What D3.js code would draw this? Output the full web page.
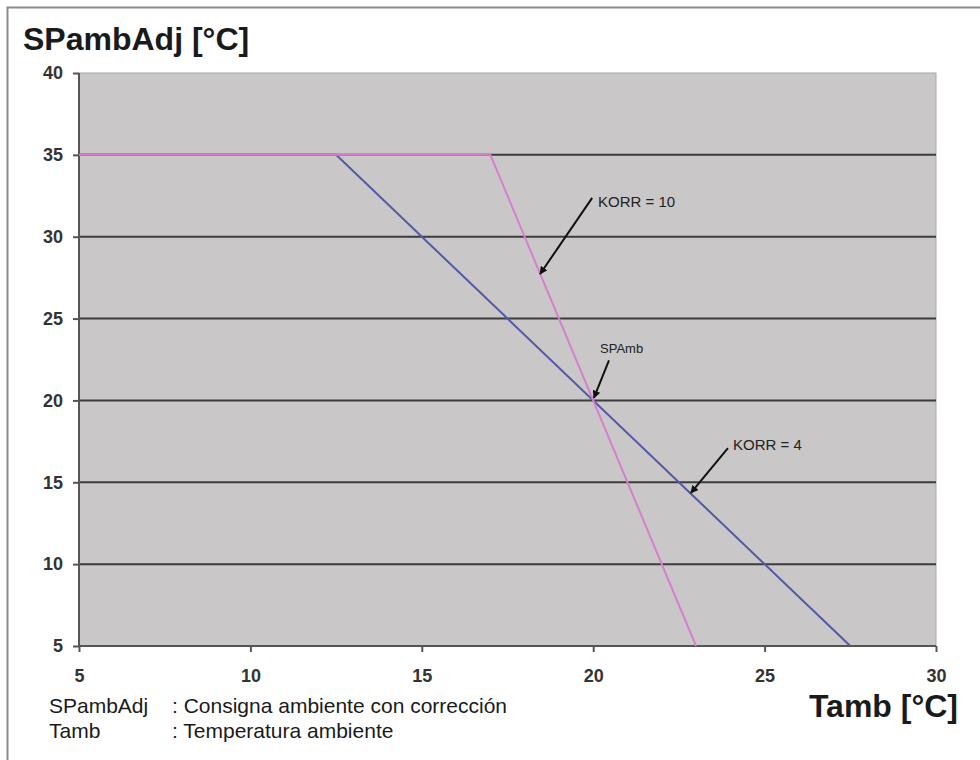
<!DOCTYPE html>
<html>
<head>
<meta charset="utf-8">
<script src="https://cdn.jsdelivr.net/npm/d3@7"></script>
<style>
    body { margin: 0; background: #fff; }
    svg { display: block; font-family: "Liberation Sans", Arial, sans-serif; }
</style>
</head>
<body>
<svg id="chart" width="980" height="760"></svg>
<script>
// chart values
var xTicks = [5, 10, 15, 20, 25, 30];
var yTicks = [5, 10, 15, 20, 25, 30, 35, 40];
var korr4 = [[5, 35], [12.5, 35], [27.5, 5]];
var korr10 = [[5, 35], [17, 35], [23, 5]];
// label anchor (tx,ty), arrow start (sx,sy) and arrow tip (px,py), all in data units
var notes = [
    {label: 'KORR = 10', size: 15, tx: 20.14, ty: 31.8, sx: 19.97, sy: 32.37, px: 18.45, py: 27.72},
    {label: 'SPAmb', size: 13, tx: 20.2, ty: 22.9, sx: 20.46, sy: 22.45, px: 20.02, py: 20.15},
    {label: 'KORR = 4', size: 15, tx: 24.08, ty: 16.95, sx: 23.93, sy: 17.09, px: 22.85, py: 14.35}
];
var legendRows = [
    ['SPambAdj', ': Consigna ambiente con corrección'],
    ['Tamb', ': Temperatura ambiente']
];

(function () {
    var svg = d3.select('#chart');
    var plotLeft = 79, plotRight = 936, plotTop = 73, plotBottom = 646;

    var x = d3.scaleLinear().domain([5, 30]).range([plotLeft, plotRight]);
    var y = d3.scaleLinear().domain([5, 40]).range([plotBottom, plotTop]);

    // outer frame
    svg.append('rect').attr('x', 7.5).attr('y', 7.5).attr('width', 990).attr('height', 800)
        .attr('fill', 'none').attr('stroke', '#8a8a8a').attr('stroke-width', 2);

    // plot background
    svg.append('rect').attr('x', plotLeft).attr('y', plotTop)
        .attr('width', plotRight - plotLeft).attr('height', plotBottom - plotTop)
        .attr('fill', '#c9c7c7').attr('stroke', '#a9a7a7').attr('stroke-width', 1);

    // gridlines
    svg.append('g').selectAll('line').data(yTicks.filter(function(d){ return d > 5 && d < 40; }))
        .enter().append('line')
        .attr('x1', plotLeft).attr('x2', plotRight)
        .attr('y1', function(d){ return y(d); }).attr('y2', function(d){ return y(d); })
        .attr('stroke', '#3c3c3c').attr('stroke-width', 2);

    // axes
    var xAxis = svg.append('g').attr('transform', 'translate(0,' + plotBottom + ')')
        .call(d3.axisBottom(x).tickValues(xTicks).tickSize(6).tickPadding(17));
    var yAxis = svg.append('g').attr('transform', 'translate(' + plotLeft + ',0)')
        .call(d3.axisLeft(y).tickValues(yTicks).tickSize(6).tickPadding(10));
    [xAxis, yAxis].forEach(function(a){
        a.select('.domain').remove();
        a.selectAll('.tick line').attr('stroke', '#555').attr('stroke-width', 2);
        a.selectAll('.tick text').attr('fill', '#333').attr('font-size', 18).attr('font-weight', 'bold')
            .attr('font-family', '"Liberation Sans", Arial, sans-serif');
    });
    yAxis.append('line').attr('x1', 0).attr('x2', 0).attr('y1', plotTop).attr('y2', plotBottom)
        .attr('stroke', '#555').attr('stroke-width', 2);
    xAxis.append('line').attr('x1', plotLeft).attr('x2', plotRight).attr('y1', 0).attr('y2', 0)
        .attr('stroke', '#555').attr('stroke-width', 2);

    // series
    var line = d3.line().x(function(d){ return x(d[0]); }).y(function(d){ return y(d[1]); });
    svg.append('path').datum(korr4).attr('d', line)
        .attr('fill', 'none').attr('stroke', '#5458a8').attr('stroke-width', 2);
    svg.append('path').datum(korr10).attr('d', line)
        .attr('fill', 'none').attr('stroke', '#d77fcf').attr('stroke-width', 2);

    // annotations
    svg.append('defs').append('marker').attr('id', 'arr')
        .attr('viewBox', '0 0 10 10').attr('refX', 9).attr('refY', 5)
        .attr('markerWidth', 4).attr('markerHeight', 4).attr('orient', 'auto')
        .append('path').attr('d', 'M0,0L10,5L0,10z').attr('fill', '#111');

    var ann = svg.append('g').selectAll('g').data(notes).enter().append('g');
    ann.append('line')
        .attr('x1', function(d){ return x(d.sx); }).attr('y1', function(d){ return y(d.sy); })
        .attr('x2', function(d){ return x(d.px); }).attr('y2', function(d){ return y(d.py); })
        .attr('stroke', '#111').attr('stroke-width', 2).attr('marker-end', 'url(#arr)');
    ann.append('text')
        .attr('x', function(d){ return x(d.tx); }).attr('y', function(d){ return y(d.ty); })
        .attr('font-size', function(d){ return d.size; }).attr('fill', '#222')
        .text(function(d){ return d.label; });

    // titles
    svg.append('text').attr('x', 23).attr('y', 50).attr('font-size', 32).attr('font-weight', 'bold')
        .attr('fill', '#1a1a1a').text('SPambAdj [°C]');
    svg.append('text').attr('x', 958).attr('y', 717).attr('text-anchor', 'end').attr('font-size', 32)
        .attr('font-weight', 'bold').attr('fill', '#1a1a1a').text('Tamb [°C]');

    // legend
    var leg = svg.append('g').selectAll('g').data(legendRows).enter().append('g')
        .attr('transform', function(d, i){ return 'translate(49,' + (713 + i * 25) + ')'; });
    leg.append('text').attr('font-size', 21).attr('fill', '#1a1a1a').text(function(d){ return d[0]; });
    leg.append('text').attr('x', 123).attr('font-size', 21).attr('fill', '#1a1a1a').text(function(d){ return d[1]; });
})();
</script>
</body>
</html>
